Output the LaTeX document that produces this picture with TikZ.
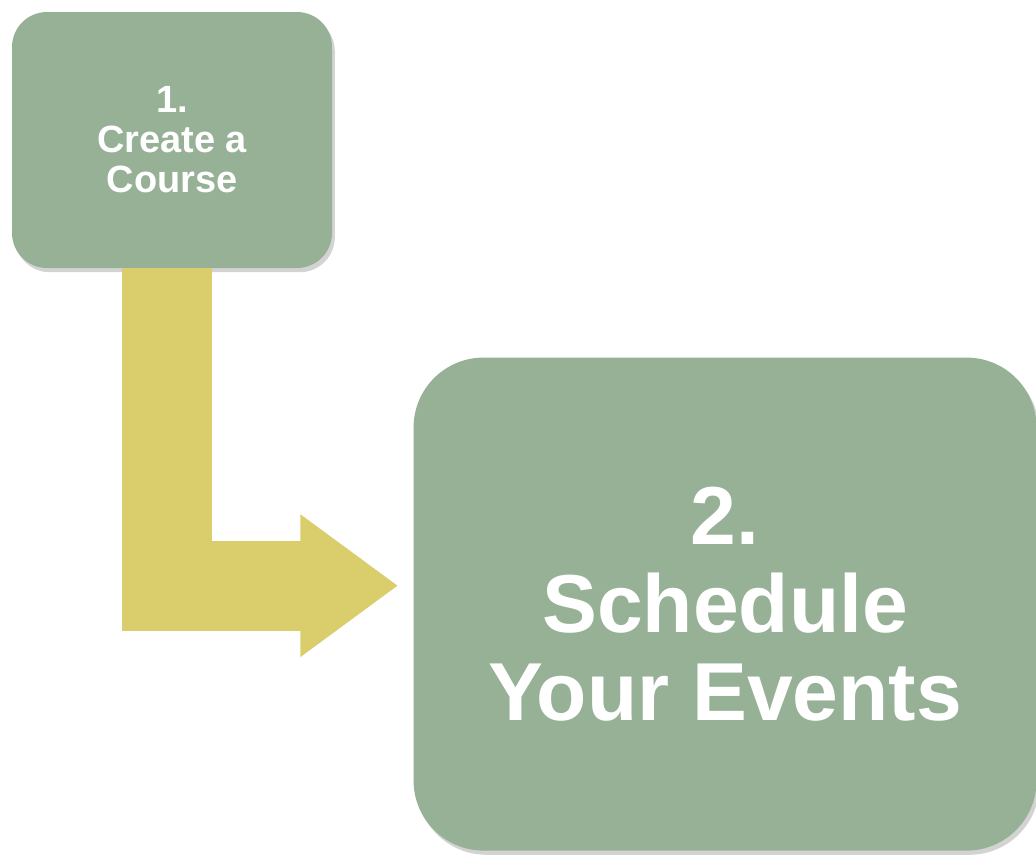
\documentclass[tikz,border=0pt]{standalone}
\usepackage{fontspec}
\setmainfont{Liberation Sans}
\usepackage{tikz}
\usetikzlibrary{arrows.meta,shapes,positioning,shadows}
\definecolor{stepgreen}{RGB}{151,177,150}
\definecolor{arrowyellow}{RGB}{218,205,108}
\tikzstyle{stepbox} = [rectangle, align=center, text=white, fill=stepgreen, drop shadow={shadow xshift=2pt, shadow yshift=-3pt, opacity=0.35}]
\tikzstyle{flow} = [line width=2.25cm, draw=arrowyellow, line join=miter, -{Triangle[length=2.45cm,width=3.4cm]}]

\begin{document}
\begin{tikzpicture}
\useasboundingbox (0,0) rectangle (25.9,-21.35);
\node (create) [stepbox, minimum width=8cm, minimum height=6.4cm, rounded corners=0.875cm, font=\fontsize{27}{28.45}\selectfont\bfseries] at (4.3,-3.5) {1.\\Create a\\Course};
\node (schedule) [stepbox, below right=2.225cm and 2.025cm of create, minimum width=15.575cm, minimum height=12.325cm, rounded corners=1.75cm, font=\fontsize{58.5}{62.6}\selectfont\bfseries] {2.\\Schedule\\Your Events};
\draw [flow, shorten >=0.375cm] ([xshift=-0.125cm]create.south) |- ([yshift=0.46cm]schedule.west);
\end{tikzpicture}
\end{document}
